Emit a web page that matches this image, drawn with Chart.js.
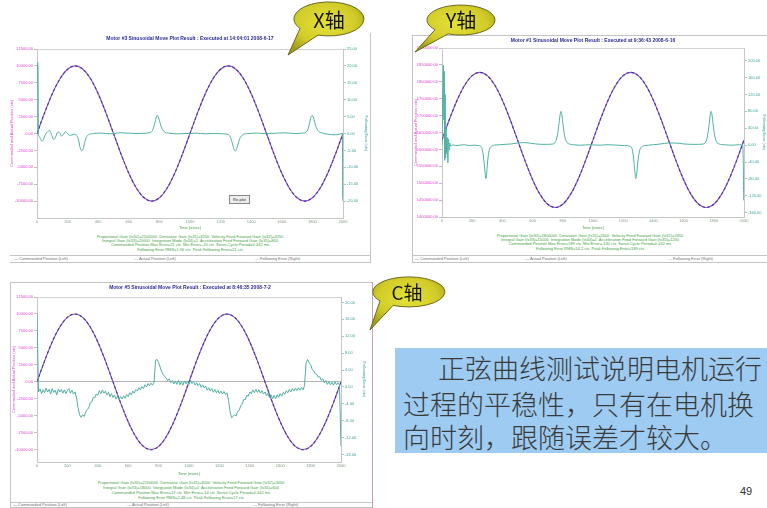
<!DOCTYPE html>
<html>
<head>
<meta charset="utf-8">
<script src="https://cdn.jsdelivr.net/npm/chart.js@4.4.1/dist/chart.umd.min.js"></script>
<style>
html,body{margin:0;padding:0;background:#fff;}
#slide{position:relative;width:767px;height:508px;overflow:hidden;background:#fff;font-family:"Liberation Sans",Arial,sans-serif;}
canvas{position:absolute;}
.t{position:absolute;white-space:nowrap;line-height:1;}
.title{font-weight:bold;font-size:5px;color:#2b2b9c;transform:translateX(-50%);}
.stats{font-size:4px;line-height:4.2px;color:#3f9f3f;text-align:center;transform:translateX(-50%);}
.leg{font-size:4px;color:#707070;}
.rule{position:absolute;height:0;border-top:1px solid #c4c4c4;}
.vrule{position:absolute;width:0;border-left:1px solid #c4c4c4;}
.note{position:absolute;left:395px;top:348px;width:372px;height:105px;background:#9dcbf1;}
.note div{position:absolute;white-space:nowrap;font-family:"Noto Sans CJK SC",sans-serif;font-weight:300;font-size:27px;line-height:1;color:#3a3a3a;}
</style>
</head>
<body>
<div id="slide">
  <!-- panel frames -->
  <div class="vrule" style="left:370px;top:33px;height:230px;"></div>
  <div class="rule" style="left:10px;top:255px;width:361px;"></div>
  <div class="rule" style="left:10px;top:262px;width:361px;"></div>

  <div class="vrule" style="left:412px;top:35px;height:228px;"></div>
  <div class="rule" style="left:412px;top:35px;width:355px;"></div>
  <div class="rule" style="left:412px;top:255px;width:355px;"></div>
  <div class="rule" style="left:412px;top:262px;width:355px;"></div>

  <div class="rule" style="left:10px;top:282px;width:362px;"></div>
  <div class="vrule" style="left:10px;top:282px;height:226px;"></div>
  <div class="vrule" style="left:372px;top:282px;height:226px;border-left-color:#c9a3ad;"></div>
  <div class="rule" style="left:10px;top:502px;width:362px;"></div>
  <div class="rule" style="left:10px;top:507px;width:362px;"></div>

  <canvas id="chartX" width="372" height="200" style="left:0;top:30px;width:372px;height:200px;"></canvas>
  <canvas id="chartY" width="355" height="195" style="left:412px;top:35px;width:355px;height:195px;"></canvas>
  <canvas id="chartC" width="362" height="194" style="left:10px;top:282px;width:362px;height:194px;"></canvas>

  <!-- X axis panel texts -->
  <div class="t title" style="left:190px;top:35.5px;">Motor #3 Sinusoidal Move Plot Result : Executed at 14:04:01 2008-6-17</div>
  <div class="t" style="left:229px;top:195px;width:19px;height:7px;border:1px solid #888;background:#eee;font-size:4px;line-height:7px;text-align:center;color:#333;">Re-plot</div>
  <div class="t stats" style="left:190px;top:235px;">Proportional Gain (Ix30)=2500000&nbsp; Derivative Gain (Ix31)=3200&nbsp; Velocity Feed Forward Gain (Ix32)=3250<br>Integral Gain (Ix33)=20000&nbsp; Integration Mode (Ix34)=1&nbsp; Acceleration Feed Forward Gain (Ix35)=800<br>Commanded Position Max Error=21 cts&nbsp; Min Error=-20 cts&nbsp; Servo Cycle Period=0.442 ms<br>Following Error RMS=1.96 cts&nbsp; Peak Following Error=21 cts</div>
  <div class="t leg" style="left:14px;top:256.5px;"><span style="color:#3c3ca8">—</span> Commanded Position (Left)</div>
  <div class="t leg" style="left:134px;top:256.5px;"><span style="color:#a050c8">—</span> Actual Position (Left)</div>
  <div class="t leg" style="left:255px;top:256.5px;"><span style="color:#4fb0a2">—</span> Following Error (Right)</div>

  <!-- Y axis panel texts -->
  <div class="t title" style="left:593px;top:37.5px;">Motor #1 Sinusoidal Move Plot Result : Executed at 9:36:43 2008-6-16</div>
  <div class="t stats" style="left:590px;top:234px;">Proportional Gain (Ix30)=1800000&nbsp; Derivative Gain (Ix31)=2600&nbsp; Velocity Feed Forward Gain (Ix32)=2650<br>Integral Gain (Ix33)=15000&nbsp; Integration Mode (Ix34)=1&nbsp; Acceleration Feed Forward Gain (Ix35)=1200<br>Commanded Position Max Error=189 cts&nbsp; Min Error=-130 cts&nbsp; Servo Cycle Period=0.442 ms<br>Following Error RMS=14.2 cts&nbsp; Peak Following Error=189 cts</div>
  <div class="t leg" style="left:415px;top:256.5px;"><span style="color:#3c3ca8">—</span> Commanded Position (Left)</div>
  <div class="t leg" style="left:525px;top:256.5px;"><span style="color:#a050c8">—</span> Actual Position (Left)</div>
  <div class="t leg" style="left:668px;top:256.5px;"><span style="color:#4fb0a2">—</span> Following Error (Right)</div>

  <!-- C axis panel texts -->
  <div class="t title" style="left:190px;top:284.5px;">Motor #5 Sinusoidal Move Plot Result : Executed at 8:46:35 2008-7-2</div>
  <div class="t stats" style="left:191px;top:480px;line-height:5px;">Proportional Gain (Ix30)=2200000&nbsp; Derivative Gain (Ix31)=3000&nbsp; Velocity Feed Forward Gain (Ix32)=3050<br>Integral Gain (Ix33)=18000&nbsp; Integration Mode (Ix34)=1&nbsp; Acceleration Feed Forward Gain (Ix35)=600<br>Commanded Position Max Error=17 cts&nbsp; Min Error=-14 cts&nbsp; Servo Cycle Period=0.442 ms<br>Following Error RMS=2.48 cts&nbsp; Peak Following Error=17 cts</div>
  <div class="t leg" style="left:13px;top:503px;"><span style="color:#3c3ca8">—</span> Commanded Position (Left)</div>
  <div class="t leg" style="left:127px;top:503px;"><span style="color:#a050c8">—</span> Actual Position (Left)</div>
  <div class="t leg" style="left:253px;top:503px;"><span style="color:#4fb0a2">—</span> Following Error (Right)</div>

  <!-- explanatory note -->
  <div class="note">
    <div style="left:43px;top:6px;">正弦曲线测试说明电机运行</div>
    <div style="left:8px;top:42px;">过程的平稳性，只有在电机换</div>
    <div style="left:8px;top:75px;">向时刻，跟随误差才较大。</div>
  </div>
  <div class="t" style="left:740px;top:486px;font-size:11px;color:#333;">49</div>

  <!-- callout bubbles -->
  <svg width="767" height="508" style="position:absolute;left:0;top:0;pointer-events:none;">
    <defs>
      <radialGradient id="bubbleFill" cx="50%" cy="40%" r="62%">
        <stop offset="0" stop-color="#e6e238"/>
        <stop offset="0.65" stop-color="#d0cb28"/>
        <stop offset="1" stop-color="#a29d1a"/>
      </radialGradient>
    </defs>
    <path d="M300,28.5 A35,17 0 1,1 318,35.1 L288,55 Z" fill="url(#bubbleFill)" stroke="#5e5c12" stroke-width="0.9"/>
    <text x="329" y="28" font-family="Noto Sans CJK SC" font-size="20" text-anchor="middle" fill="#151515">X轴</text>
    <path d="M435,29.7 A34,15 0 1,1 448,33.9 L415,52 Z" fill="url(#bubbleFill)" stroke="#5e5c12" stroke-width="0.9"/>
    <text x="461" y="28" font-family="Noto Sans CJK SC" font-size="20" text-anchor="middle" fill="#151515">Y轴</text>
    <path d="M380,300.9 A36,15 0 1,1 393,305.4 L370,330 Z" fill="url(#bubbleFill)" stroke="#5e5c12" stroke-width="0.9"/>
    <text x="407" y="300" font-family="Noto Sans CJK SC" font-size="19" text-anchor="middle" fill="#151515">C轴</text>
  </svg>
</div>

<script>
// ---- sample times (ms) of the commanded / actual position traces ----
const posTime = [0,50,100,150,200,250,300,350,400,450,500,550,600,650,700,750,800,850,900,950,
  1000,1050,1100,1150,1200,1250,1300,1350,1400,1450,1500,1550,1600,1650,1700,1750,1800,1850,1900,1950,2000];

// ---- X axis move (cts) ----
const positionX = [0,3090,5880,8090,9510,10000,9510,8090,5880,3090,0,-3090,-5880,-8090,-9510,-10000,-9510,-8090,-5880,-3090,
  0,3090,5880,8090,9510,10000,9510,8090,5880,3090,0,-3090,-5880,-8090,-9510,-10000,-9510,-8090,-5880,-3090,0];
const errTimeX = [0,2,5,7,9,14,22,32,42,55,70,84,97,110,122,135,148,160,172,185,198,212,228,245,260,272,282,292,302,313,
  325,340,370,420,480,540,600,660,710,740,755,767,778,786,795,805,818,835,860,920,980,1040,1100,1160,1220,
  1250,1262,1275,1286,1296,1305,1316,1330,1348,1375,1440,1500,1560,1620,1680,1730,1758,1772,1783,1793,1800,
  1810,1822,1838,1860,1900,1950,1985,1996,1998,2000];
const errValueX = [0,20.5,21,19,0.5,-0.8,-1.5,-2.3,-1.8,-0.3,0.6,0.8,-0.6,-1.8,-1.0,0.4,0.3,-0.8,-0.3,0.5,0.2,-0.6,-0.4,-0.2,-0.6,
  -2.0,-4.2,-5.1,-4.5,-2.4,-0.9,-0.3,0,0.1,-0.1,0.2,0.1,0,0.1,0.3,0.9,2.6,4.6,5.4,4.6,3.0,1.3,0.4,0.1,-0.1,
  0,0.1,-0.1,0,-0.1,-0.3,-0.9,-2.6,-4.5,-5.2,-4.5,-2.8,-1.1,-0.3,0,0.1,0,0.1,0.2,0,0.1,0.4,1.4,3.4,5.1,
  5.3,4.2,2.2,0.8,0.2,-0.2,-0.4,-0.1,0,-19,-20];
const leftTicksX = [12500,10000,7500,5000,2500,0,-2500,-5000,-7500,-10000];
const rightTicksX = [25,20,15,10,5,0,-5,-10,-15,-20];

// ---- Y axis move (cts) ----
const positionY = [1628000,1689800,1745600,1789800,1818200,1828000,1818200,1789800,1745600,1689800,
  1628000,1566200,1510400,1466200,1437800,1428000,1437800,1466200,1510400,1566200,
  1628000,1689800,1745600,1789800,1818200,1828000,1818200,1789800,1745600,1689800,
  1628000,1566200,1510400,1466200,1437800,1428000,1437800,1466200,1510400,1566200,1628000];
const errTimeY = [0,6,9,12,15,18,21,24,27,31,35,39,43,47,52,58,70,90,120,150,180,210,240,258,268,278,286,291,296,304,
  314,326,345,380,420,460,500,540,580,620,660,700,735,752,765,775,783,788,794,802,812,825,842,870,920,
  980,1040,1100,1160,1210,1240,1258,1268,1276,1283,1289,1297,1308,1322,1345,1400,1450,1500,1550,1600,
  1650,1700,1730,1748,1760,1770,1777,1782,1788,1796,1806,1818,1835,1870,1920,1970,1992,1996,1998,2000];
const errValueY = [0,150,189,60,175,-36,120,-30,40,-20,18,-42,15,-12,5,-3,1,-1,0,1,-1,0,-1,-3,-12,-38,-68,-79,-66,-32,
  -10,-3,0,1,2,3,5,6,5,3,2,2,3,8,25,52,74,80,72,48,22,8,3,1,0,
  1,0,1,0,-1,-2,-8,-28,-58,-79,-70,-40,-14,-4,-1,1,3,5,5,3,
  2,2,3,8,25,52,74,80,72,48,22,8,3,1,0,1,0,-60,-130,-130];
const leftTicksY = [1900000,1850000,1800000,1750000,1700000,1650000,1600000,1550000,1500000,1450000,1400000];
const rightTicksY = [200,160,120,80,40,0,-40,-80,-120,-160];

// ---- C axis move (cts) ----
const positionC = [0,3090,5880,8090,9510,10000,9510,8090,5880,3090,0,-3090,-5880,-8090,-9510,-10000,-9510,-8090,-5880,-3090,
  0,3090,5880,8090,9510,10000,9510,8090,5880,3090,0,-3090,-5880,-8090,-9510,-10000,-9510,-8090,-5880,-3090,0];
const errTimeC = [
  0,10,20,30,40,50,60,70,80,90, 100,110,120,130,140,150,160,170,180,190,
  200,210,220,230,240,250,260,270,280,290, 300,310,320,330,340,350,360,370,380,390,
  400,410,420,430,440,450,460,470,480,490, 500,510,520,530,540,550,560,570,580,590,
  600,610,620,630,640,650,660,670,680,690, 700,710,720,730,740,750,760,770,780,790,
  800,810,820,830,840,850,860,870,880,890, 900,910,920,930,940,950,960,970,980,990,
  1000,1010,1020,1030,1040,1050,1060,1070,1080,1090, 1100,1110,1120,1130,1140,1150,1160,1170,1180,1190,
  1200,1210,1220,1230,1240,1250,1260,1270,1280,1290, 1300,1310,1320,1330,1340,1350,1360,1370,1380,1390,
  1400,1410,1420,1430,1440,1450,1460,1470,1480,1490, 1500,1510,1520,1530,1540,1550,1560,1570,1580,1590,
  1600,1610,1620,1630,1640,1650,1660,1670,1680,1690, 1700,1710,1720,1730,1740,1750,1760,1770,1780,1790,
  1800,1810,1820,1830,1840,1850,1860,1870,1880,1890, 1900,1910,1920,1930,1940,1950,1960,1970,1980,1990,
  2000];
const errValueC = [
  17.5,-1.2,-0.5,-1.6,-0.7,-1.4,-0.3,-1.2,-0.6,-1.7, -0.4,-1.3,-0.8,-1.9,-0.5,-1.2,-0.6,-1.5,-0.7,-1.6,
  -0.9,-0.4,-1.5,-0.8,-1.7,-1.2,-2.6,-4.9,-6.6,-7.2, -6.6,-7.0,-6.0,-5.4,-5.0,-3.8,-3.6,-2.5,-2.6,-1.7,
  -2.0,-0.9,-1.6,-0.7,-1.5,-1.0,-1.9,-1.3,-2.3,-1.6, -2.5,-1.9,-2.9,-2.2,-3.0,-2.3,-2.9,-2.1,-2.7,-1.8,
  -2.3,-1.4,-1.9,-1.0,-1.5,-0.6,-1.0,-0.2,-0.7,0.1, -0.4,0.5,0.0,0.8,0.3,0.9,0.4,1.1,6.3,6.5,
  5.8,4.7,3.6,2.9,2.5,2.1,1.5,1.9,1.0,1.5, 0.7,1.3,0.6,1.5,0.5,1.2,0.4,1.4,0.7,1.3,
  0.6,1.6,0.8,1.2,0.4,1.0,0.3,0.8,-0.1,0.5, -0.3,0.2,-0.8,-0.2,-1.0,-0.4,-1.3,-0.6,-1.4,-0.8,
  -1.6,-1.0,-1.7,-1.1,-1.8,-1.4,-3.2,-5.8,-7.3,-7.0, -6.6,-6.9,-5.8,-5.6,-4.5,-4.1,-3.0,-3.0,-2.0,-2.2,
  -1.2,-1.6,-0.7,-1.4,-0.6,-1.3,-0.7,-1.5,-0.9,-1.7, -1.2,-2.1,-1.5,-2.6,-1.9,-2.8,-2.0,-2.8,-1.9,-2.5,
  -1.6,-2.2,-1.3,-1.8,-0.9,-1.4,-0.6,-1.2,-0.4,-1.0, -0.3,-0.9,-0.2,-0.8,-0.1,-0.7,0.3,5.6,6.5,5.8,
  5.3,4.2,3.8,3.1,3.0,2.3,2.4,1.6,1.9,1.0, 1.5,0.6,1.2,0.5,1.1,0.4,1.2,0.5,1.0,0.4,
  -14.1];
const leftTicksC = [12500,10000,7500,5000,2500,0,-2500,-5000,-7500,-10000];
const rightTicksC = [20,16,12,8,4,0,-4,-8,-12,-16];

const timeTicks = [0,200,400,600,800,1000,1200,1400,1600,1800,2000];

// ---- drawing ----
const COLOR_CMD = '#3c3ca8';
const COLOR_ACT = '#a050c8';
const COLOR_ERR = '#4fb0a2';
const COLOR_LEFT = '#e040d8';
const COLOR_RIGHT = '#3aa39a';
const AXIS_FONT = { family: 'Liberation Sans', size: 4 };

function pairs(xs, ys) {
  return xs.map((x, i) => ({ x: x, y: ys[i] }));
}

const plotFrame = {
  id: 'plotFrame',
  beforeDatasetsDraw(chart) {
    const { ctx, chartArea: a } = chart;
    ctx.save();
    ctx.strokeStyle = '#d2d2d2';
    ctx.lineWidth = 1;
    ctx.beginPath();
    ctx.moveTo(a.left, Math.round(a.top) + 0.5);
    ctx.lineTo(a.right, Math.round(a.top) + 0.5);
    ctx.stroke();
    ctx.restore();
  }
};

function buildChart(id, cfg) {
  return new Chart(document.getElementById(id), {
    type: 'line',
    data: {
      datasets: [
        { label: 'Following Error (Right)', data: pairs(cfg.errTime, cfg.errValue), yAxisID: 'yR',
          borderColor: COLOR_ERR, borderWidth: 1, pointRadius: 0, tension: 0,
          cubicInterpolationMode: cfg.smoothErr ? 'monotone' : 'default', order: 0 },
        { label: 'Commanded Position (Left)', data: pairs(posTime, cfg.position), yAxisID: 'yL',
          borderColor: COLOR_CMD, borderDash: [3, 2], borderWidth: 1.1, pointRadius: 0,
          cubicInterpolationMode: 'monotone', order: 1 },
        { label: 'Actual Position (Left)', data: pairs(posTime, cfg.position), yAxisID: 'yL',
          borderColor: COLOR_ACT, borderWidth: 1.1, pointRadius: 0,
          cubicInterpolationMode: 'monotone', order: 2 }
      ]
    },
    options: {
      responsive: false,
      animation: false,
      devicePixelRatio: 1,
      layout: { padding: { top: cfg.padTop, left: 0, right: 0, bottom: 0 } },
      plugins: { legend: { display: false }, title: { display: false }, tooltip: { enabled: false } },
      scales: {
        x: {
          type: 'linear', min: 0, max: 2000,
          afterBuildTicks: s => { s.ticks = timeTicks.map(v => ({ value: v })); },
          ticks: { font: AXIS_FONT, color: '#7f9a80', padding: 1, maxRotation: 0, autoSkip: false,
                   callback: v => String(v) },
          grid: { display: true, drawOnChartArea: false, drawTicks: false },
          border: { color: '#c6c6c6', width: 1 },
          title: { display: true, text: 'Time (msec)', color: '#46a046', font: AXIS_FONT, padding: 0 },
          afterFit: s => { s.height = cfg.xHeight; }
        },
        yL: {
          type: 'linear', position: 'left', min: cfg.leftRange[0], max: cfg.leftRange[1],
          afterBuildTicks: s => { s.ticks = cfg.leftTicks.map(v => ({ value: v })); },
          ticks: { font: AXIS_FONT, color: COLOR_LEFT, padding: 1, autoSkip: false,
                   callback: v => Number(v).toFixed(2) },
          grid: {
            display: true, drawOnChartArea: !!cfg.zeroLine, drawTicks: true, tickLength: 3,
            color: c => (cfg.zeroLine && c.tick && c.tick.value === 0) ? '#b4b4b4' : 'rgba(0,0,0,0)',
            tickColor: '#bdbdbd'
          },
          border: { color: '#c6c6c6', width: 1 },
          title: { display: true, text: 'Commanded and Actual Position (cts)', color: COLOR_LEFT,
                   font: AXIS_FONT, padding: { top: cfg.leftTitlePad, bottom: 0 } },
          afterFit: s => { s.width = cfg.leftWidth; }
        },
        yR: {
          type: 'linear', position: 'right', min: cfg.rightRange[0], max: cfg.rightRange[1],
          afterBuildTicks: s => { s.ticks = cfg.rightTicks.map(v => ({ value: v })); },
          ticks: { font: AXIS_FONT, color: COLOR_RIGHT, padding: 1, autoSkip: false,
                   callback: v => Number(v).toFixed(2) },
          grid: { display: true, drawOnChartArea: false, drawTicks: true, tickLength: 3, tickColor: '#bdbdbd' },
          border: { color: '#c6c6c6', width: 1 },
          title: { display: true, text: 'Following Error (cts)', color: COLOR_RIGHT,
                   font: AXIS_FONT, padding: { top: cfg.rightTitlePad, bottom: 0 } },
          afterFit: s => { s.width = cfg.rightWidth; }
        }
      }
    },
    plugins: [plotFrame]
  });
}

buildChart('chartX', {
  position: positionX, errTime: errTimeX, errValue: errValueX, smoothErr: true,
  leftTicks: leftTicksX, rightTicks: rightTicksX,
  leftRange: [-12500, 12500], rightRange: [-25, 25],
  padTop: 19, xHeight: 12, leftWidth: 37, rightWidth: 29, leftTitlePad: 9, rightTitlePad: 3
});

buildChart('chartY', {
  position: positionY, errTime: errTimeY, errValue: errValueY, smoothErr: true,
  leftTicks: leftTicksY, rightTicks: rightTicksY,
  leftRange: [1400000, 1900000], rightRange: [-170, 230],
  padTop: 13, xHeight: 13, leftWidth: 30, rightWidth: 23, leftTitlePad: 1, rightTitlePad: 0
});

buildChart('chartC', {
  position: positionC, errTime: errTimeC, errValue: errValueC, smoothErr: false, zeroLine: true,
  leftTicks: leftTicksC, rightTicks: rightTicksC,
  leftRange: [-11800, 12500], rightRange: [-17.8, 21.3],
  padTop: 15, xHeight: 14, leftWidth: 27, rightWidth: 31, leftTitlePad: 1, rightTitlePad: 5
});
</script>
</body>
</html>
